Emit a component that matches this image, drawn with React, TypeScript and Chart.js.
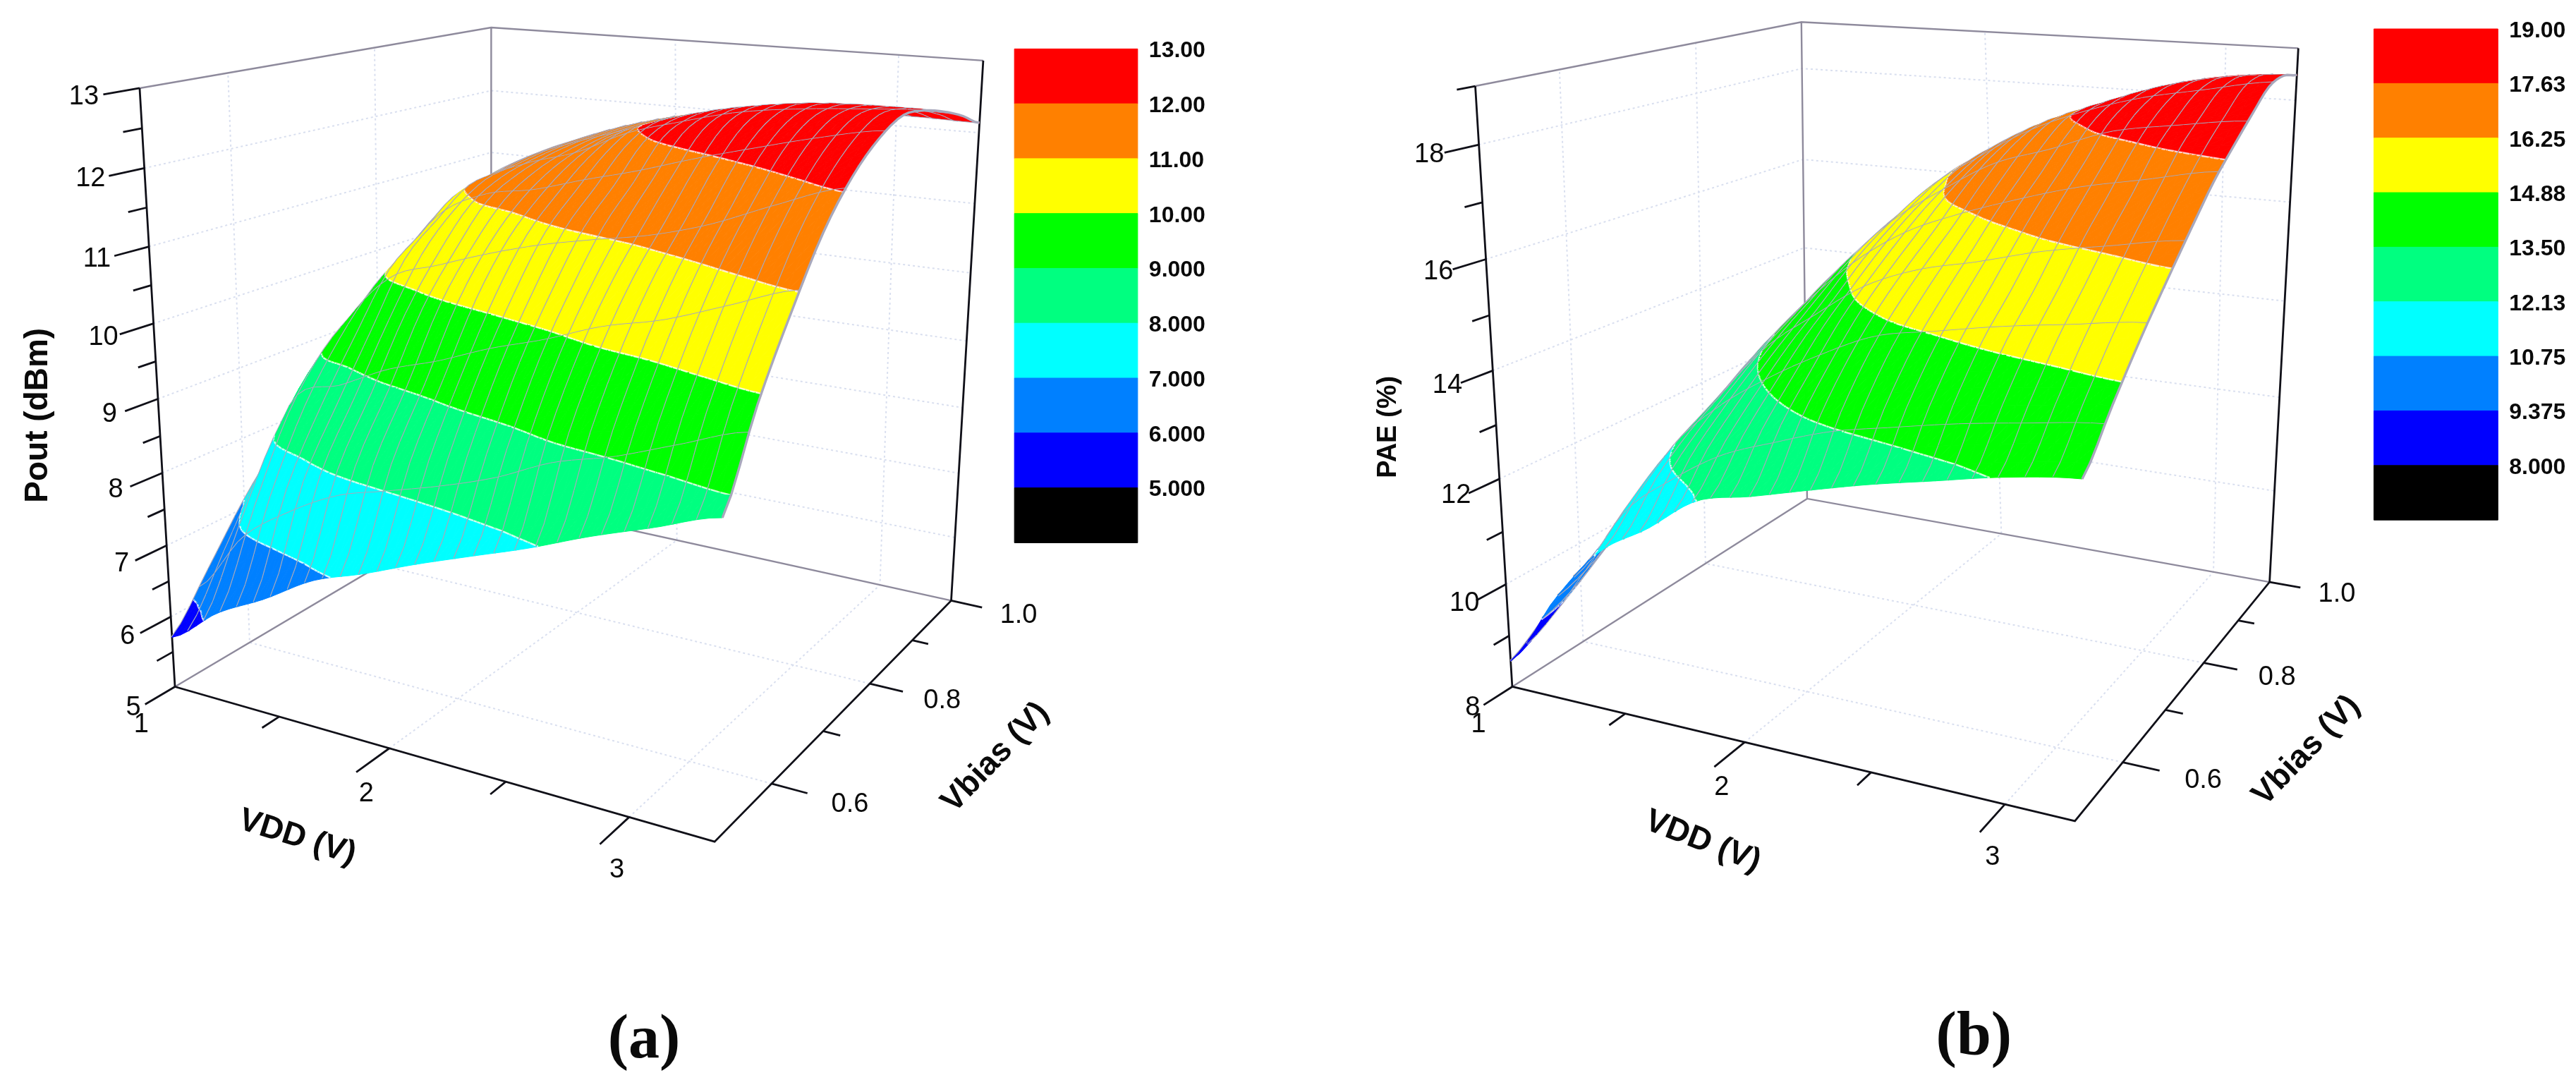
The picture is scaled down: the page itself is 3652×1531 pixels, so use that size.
import { useEffect, useRef } from "react";
import { Chart, registerables } from "chart.js";

Chart.register(...registerables);

const BAND_COLORS = ["#000000", "#0000ff", "#0080ff", "#00ffff", "#00ff80", "#00ff00", "#ffff00", "#ff8000", "#ff0000"];

const VDD_A = [1.0, 1.233, 1.466, 1.699, 1.932, 2.165, 2.398, 2.631, 2.864, 3.097, 3.33];
const VDD_B = [1.0, 1.225, 1.45, 1.675, 1.9, 2.125, 2.35, 2.575, 2.8, 3.025, 3.25];
const VBIAS = [0.5, 0.55, 0.6, 0.65, 0.7, 0.75, 0.8, 0.85, 0.9, 0.95, 1.0];
const MESH_VBIAS = [0.5425, 0.6175, 0.6925, 0.7675, 0.8425, 0.9175, 0.9925];

// Rows follow VDD, columns follow VBIAS
const POUT = [
  [5.66, 6.3, 7.0, 7.6, 8.2, 8.7, 9.1, 9.55, 9.9, 10.2, 10.45],
  [6.15, 7.25, 8.3, 8.98, 9.38, 9.75, 10.15, 10.5, 10.7, 10.8, 10.8],
  [6.5, 7.75, 8.6, 9.4, 10.2, 10.6, 10.97, 11.05, 11.15, 11.2, 11.2],
  [6.9, 8.1, 8.92, 9.8, 10.45, 11.0, 11.25, 11.38, 11.45, 11.48, 11.5],
  [7.15, 8.3, 9.15, 10.05, 10.7, 11.15, 11.45, 11.62, 11.7, 11.72, 11.72],
  [7.43, 8.5, 9.45, 10.25, 10.93, 11.36, 11.75, 11.98, 11.97, 11.92, 11.89],
  [7.69, 8.75, 9.7, 10.45, 11.1, 11.55, 12.03, 12.2, 12.2, 12.1, 12.0],
  [7.95, 9.1, 10.0, 10.7, 11.25, 11.8, 12.25, 12.4, 12.35, 12.2, 12.05],
  [8.25, 9.3, 10.2, 10.93, 11.5, 12.05, 12.4, 12.52, 12.45, 12.28, 12.1],
  [8.52, 9.6, 10.5, 11.25, 11.85, 12.3, 12.55, 12.58, 12.48, 12.3, 12.1],
  [8.8, 9.9, 10.8, 11.6, 12.15, 12.5, 12.68, 12.62, 12.48, 12.3, 12.08],
];
const PAE = [
  [8.47, 8.9, 9.3, 9.75, 10.2, 10.6, 11.0, 11.35, 11.7, 12.0, 12.3],
  [9.8, 10.05, 10.55, 11.05, 11.5, 11.85, 12.2, 12.5, 12.7, 12.9, 13.1],
  [10.85, 11.45, 11.95, 12.3, 12.65, 13.05, 13.3, 13.55, 13.75, 13.95, 14.1],
  [11.45, 12.25, 12.8, 13.27, 13.7, 14.05, 14.4, 14.65, 14.8, 15.0, 15.16],
  [12.13, 12.85, 13.45, 14.0, 14.45, 14.92, 15.3, 15.6, 15.85, 16.0, 16.05],
  [12.4, 13.3, 14.0, 14.65, 15.15, 15.6, 16.0, 16.3, 16.55, 16.7, 16.75],
  [12.7, 13.7, 14.5, 15.1, 15.6, 16.05, 16.55, 16.95, 17.2, 17.3, 17.25],
  [13.0, 13.95, 14.75, 15.35, 15.9, 16.45, 16.9, 17.35, 17.68, 17.75, 17.7],
  [13.27, 14.2, 15.0, 15.6, 16.25, 16.8, 17.3, 17.8, 18.05, 18.15, 18.1],
  [13.55, 14.4, 15.2, 15.85, 16.5, 17.05, 17.63, 18.0, 18.3, 18.4, 18.35],
  [13.75, 14.6, 15.4, 16.1, 16.75, 17.35, 17.8, 18.2, 18.55, 18.6, 18.45],
];

const POUT_LEVELS = [5, 6, 7, 8, 9, 10, 11, 12, 13];
const PAE_LEVELS = [8, 9.375, 10.75, 12.13, 13.5, 14.88, 16.25, 17.63, 19];
const POUT_LEGEND = ["13.00", "12.00", "11.00", "10.00", "9.000", "8.000", "7.000", "6.000", "5.000"];
const PAE_LEGEND = ["19.00", "17.63", "16.25", "14.88", "13.50", "12.13", "10.75", "9.375", "8.000"];

const POUT_TICKS = [5, 6, 7, 8, 9, 10, 11, 12, 13];
const POUT_MINOR = [5.5, 6.5, 7.5, 8.5, 9.5, 10.5, 11.5, 12.5];
const PAE_TICKS = [8, 10, 12, 14, 16, 18];
const PAE_MINOR = [9, 11, 13, 15, 17, 19];
const VDD_TICKS = [2, 3];
const VDD_MINOR = [1.5, 2.5];
const VDD_LABELS = ["1", "2", "3"];
const VBIAS_TICKS = [0.6, 0.8, 1.0];
const VBIAS_MINOR = [0.7, 0.9];
const VBIAS_LABELS = ["0.6", "0.8", "1.0"];

const SX = 1.1645;
const SY = 0.9764;
const W = 3652;
const H = 1531;

const panelA = {
  grid: POUT, vdd: VDD_A, levels: POUT_LEVELS, legend: POUT_LEGEND,
  ticks: POUT_TICKS, minor: POUT_MINOR, zMin: 5, zMax: 13, ox: 0, labDx: [-59, -20],
  bottom: [[213, 997], [870, 1222], [1158, 872], [598, 725]],
  top: [[170, 128], [890, 232], [1197, 88], [598, 40]],
  title: "Pout (dBm)", titlePos: [47, 603], titleFont: 46,
  legendBox: [1235, 1385, 71, 788],
  vddTitlePos: [362, 1216], vddAngle: 17.5, vbTitlePos: [1212, 1100], tag: "(a)", tagPos: [784, 1512],
};
const panelB = {
  grid: PAE, vdd: VDD_B, levels: PAE_LEVELS, legend: PAE_LEGEND,
  ticks: PAE_TICKS, minor: PAE_MINOR, zMin: 8, zMax: 19, ox: 1826, labDx: [-56, -16],
  bottom: [[273, 997], [958, 1192], [1195, 845], [632, 724]],
  top: [[228, 125], [975, 242], [1230, 70], [625, 32]],
  title: "PAE (%)", titlePos: [122, 620], titleFont: 38,
  legendBox: [1322, 1473, 42, 755],
  vddTitlePos: [505, 1222], vddAngle: 21, vbTitlePos: [1240, 1090], tag: "(b)", tagPos: [835, 1508],
};

const quadMap = (q: number[][]) => {
  const [A, B, C, D] = q;
  const dx1 = B[0] - C[0], dx2 = D[0] - C[0], sx = A[0] - B[0] + C[0] - D[0];
  const dy1 = B[1] - C[1], dy2 = D[1] - C[1], sy = A[1] - B[1] + C[1] - D[1];
  const det = dx1 * dy2 - dx2 * dy1;
  const g = (sx * dy2 - dx2 * sy) / det;
  const h = (dx1 * sy - sx * dy1) / det;
  const a = B[0] - A[0] + g * B[0], b = D[0] - A[0] + h * D[0], c = A[0];
  const d = B[1] - A[1] + g * B[1], e = D[1] - A[1] + h * D[1], f = A[1];
  return (u: number, v: number) => {
    const w = g * u + h * v + 1;
    return [(a * u + b * v + c) / w, (d * u + e * v + f) / w];
  };
};

const catmull = (p0: number, p1: number, p2: number, p3: number, t: number) =>
  0.5 * (2 * p1 + (p2 - p0) * t + (2 * p0 - 5 * p1 + 4 * p2 - p3) * t * t + (3 * p1 - p0 - 3 * p2 + p3) * t * t * t);

const sampleGrid = (grid: number[][], u: number, v: number) => {
  const n = grid.length - 1, m = grid[0].length - 1;
  const s = Math.min(u * n, n - 1e-6), t = Math.min(v * m, m - 1e-6);
  const i = Math.floor(s), j = Math.floor(t);
  const row = (r: number) => {
    const R = grid[Math.max(0, Math.min(n, r))];
    const at = (q: number) => R[Math.max(0, Math.min(m, q))];
    return catmull(at(j - 1), at(j), at(j + 1), at(j + 2), t - j);
  };
  return catmull(row(i - 1), row(i), row(i + 1), row(i + 2), s - i);
};

const GAP = { x: NaN, y: NaN };
const MESH_COLOR = "#a8a8bc";

function buildPanel(p: any) {
  const toReal = (q: number[]) => [p.ox + q[0] * SX, q[1] * SY];
  const bot = quadMap(p.bottom.map(toReal));
  const top = quadMap(p.top.map(toReal));
  const project = (u: number, v: number, f: number) => {
    const a = bot(u, v), b = top(u, v);
    return { x: a[0] + (b[0] - a[0]) * f, y: a[1] + (b[1] - a[1]) * f };
  };
  const vdd0 = p.vdd[0], vddN = p.vdd[p.vdd.length - 1];
  const uOf = (V: number) => (V - vdd0) / (vddN - vdd0);
  const vOf = (V: number) => (V - VBIAS[0]) / (VBIAS[VBIAS.length - 1] - VBIAS[0]);
  const linF = (z: number) => (z - p.zMin) / (p.zMax - p.zMin);
  const tickF = (z: number) => {
    const f = linF(z);
    return f / (f + (1 - f) * 1.08);
  };

  // surface
  const Nu = 56, Nv = 40;
  const verts: any[] = [];
  const items: any[] = [];
  const node = (i: number, j: number) => {
    const u = i / Nu, v = j / Nv;
    const z = sampleGrid(p.grid, u, v);
    const q = project(u, v, linF(z));
    return { x: q.x, y: q.y, z };
  };
  const nodes: any[][] = [];
  for (let i = 0; i <= Nu; i++) {
    nodes.push([]);
    for (let j = 0; j <= Nv; j++) nodes[i].push(node(i, j));
  }
  const edges = [-Infinity, ...p.levels.slice(0, 8), Infinity];
  const clip = (poly: any[], lim: number, keepAbove: boolean) => {
    const out: any[] = [];
    for (let k = 0; k < poly.length; k++) {
      const a = poly[k], b = poly[(k + 1) % poly.length];
      const ina = keepAbove ? a.z >= lim : a.z <= lim;
      const inb = keepAbove ? b.z >= lim : b.z <= lim;
      if (ina) out.push(a);
      if (ina !== inb) {
        const t = (lim - a.z) / (b.z - a.z);
        out.push({ x: a.x + (b.x - a.x) * t, y: a.y + (b.y - a.y) * t, z: lim });
      }
    }
    return out;
  };
  const addItem = (pts: any[], style: any) => {
    for (const q of pts) verts.push({ x: q.x, y: q.y });
    items.push({ n: pts.length, ...style });
  };
  const tri = (t: any[]) => {
    const lo = Math.min(t[0].z, t[1].z, t[2].z), hi = Math.max(t[0].z, t[1].z, t[2].z);
    for (let b = 0; b < BAND_COLORS.length; b++) {
      const a = edges[b], c = edges[b + 1];
      if (hi < a || lo > c) continue;
      let poly = t;
      if (lo < a) poly = clip(poly, a, true);
      if (hi > c) poly = clip(poly, c, false);
      if (poly.length >= 3) addItem(poly, { fill: BAND_COLORS[b] });
    }
    for (const L of p.levels) {
      if (lo < L && hi > L) {
        const seg: any[] = [];
        for (let k = 0; k < 3; k++) {
          const a = t[k], b = t[(k + 1) % 3];
          if ((a.z < L) !== (b.z < L)) {
            const f = (L - a.z) / (b.z - a.z);
            seg.push({ x: a.x + (b.x - a.x) * f, y: a.y + (b.y - a.y) * f });
          }
        }
        if (seg.length === 2) addItem(seg, { stroke: "rgba(255,255,255,0.8)", width: 2.4 });
      }
    }
  };
  const hatch = (i: number) => addItem(nodes[i], { stroke: MESH_COLOR, width: 3.4 });
  const meshRows = MESH_VBIAS.map((V) => Math.round(vOf(V) * Nv));
  for (let i = 0; i < Nu; i++) {
    if (i % 2 === 0) hatch(i);
    for (let j = Nv - 1; j >= 0; j--) {
      const a = nodes[i][j], b = nodes[i + 1][j], c = nodes[i + 1][j + 1], d = nodes[i][j + 1];
      tri([a, d, c]);
      tri([a, c, b]);
      if (meshRows.includes(j)) addItem([a, b], { stroke: MESH_COLOR, width: 3 });
    }
  }
  hatch(Nu);

  // colour bar
  const barVerts: any[] = [];
  const barItems: any[] = [];
  const [lx0, lx1, ly0, ly1] = p.legendBox;
  const X0 = p.ox + lx0 * SX, X1 = p.ox + lx1 * SX, Y0 = ly0 * SY, Y1 = ly1 * SY;
  const step = (Y1 - Y0) / 9;
  for (let b = 0; b < 9; b++) {
    const y0 = Y0 + b * step, y1 = y0 + step;
    barVerts.push({ x: X0, y: y0 }, { x: X1, y: y0 }, { x: X1, y: y1 }, { x: X0, y: y1 });
    barItems.push({ n: 4, fill: BAND_COLORS[8 - b] });
  }

  // box lines
  const seg = (arr: any[], ...pts: any[]) => {
    arr.push(...pts, GAP);
  };
  const grid: any[] = [], frame: any[] = [], axes: any[] = [], ticks: any[] = [];
  const zLines = p.ticks.filter((z: number) => z > p.zMin && z < p.zMax);
  for (const z of zLines) {
    const f = tickF(z);
    seg(grid, project(0, 0, f), project(0, 1, f), project(1, 1, f));
  }
  for (const V of VDD_TICKS) {
    const u = uOf(V);
    seg(grid, project(u, 0, 0), project(u, 1, 0), project(u, 1, 1));
  }
  for (const V of VBIAS_TICKS.slice(0, 2)) {
    const v = vOf(V);
    seg(grid, project(1, v, 0), project(0, v, 0), project(0, v, 1));
  }
  seg(frame, project(0, 0, 1), project(0, 1, 1), project(1, 1, 1));
  seg(frame, project(0, 1, 1), project(0, 1, 0));
  seg(frame, project(0, 0, 0), project(0, 1, 0), project(1, 1, 0));
  seg(axes, project(0, 0, 1), project(0, 0, 0), project(1, 0, 0), project(1, 1, 0), project(1, 1, 1));

  for (const z of p.ticks) {
    const f = tickF(z);
    seg(ticks, project(0, 0, f), project(0, -0.075, f));
  }
  for (const z of p.minor) {
    const f = tickF(z);
    seg(ticks, project(0, 0, f), project(0, -0.04, f));
  }
  for (const V of VDD_TICKS) seg(ticks, project(uOf(V), 0, 0), project(uOf(V), -0.09, 0));
  for (const V of VDD_MINOR) seg(ticks, project(uOf(V), 0, 0), project(uOf(V), -0.045, 0));
  for (const V of VBIAS_TICKS) seg(ticks, project(1, vOf(V), 0), project(1.06, vOf(V), 0));
  for (const V of VBIAS_MINOR) seg(ticks, project(1, vOf(V), 0), project(1.03, vOf(V), 0));

  // text
  const texts: any[] = [];
  const tick = "38px 'Liberation Sans'";
  for (const z of p.ticks) {
    const f = tickF(z);
    const q = project(0, 0, f);
    texts.push({ s: String(z), x: q.x + p.labDx[0] + p.labDx[1] * f, y: q.y + 30 - 17 * f, font: tick });
  }
  [1, 2, 3].forEach((V, i) => {
    const q = project(uOf(V), 0, 0);
    texts.push({ s: VDD_LABELS[i], x: q.x + (-41 + 13 * (V - 1)) * SX, y: q.y + (55 + 11 * (V - 1)) * SY, font: tick });
  });
  VBIAS_TICKS.forEach((V, i) => {
    const q = project(1.13, vOf(V), 0);
    texts.push({ s: VBIAS_LABELS[i], x: q.x, y: q.y, font: tick });
  });
  p.legend.forEach((s: string, i: number) => {
    texts.push({ s, x: X1 + 16, y: Y0 + i * step + 3, font: "bold 32px 'Liberation Sans'", align: "left" });
  });
  const bold = "bold 46px 'Liberation Sans'";
  const pos = (q: number[]) => [p.ox + q[0] * SX, q[1] * SY];
  let t = pos(p.titlePos);
  texts.push({ s: p.title, x: t[0], y: t[1], font: `bold ${p.titleFont}px 'Liberation Sans'`, rot: -90 });
  t = pos(p.vddTitlePos);
  texts.push({ s: "VDD (V)", x: t[0], y: t[1], font: bold, rot: p.vddAngle });
  t = pos(p.vbTitlePos);
  texts.push({ s: "Vbias (V)", x: t[0], y: t[1], font: bold, rot: -46 });
  t = pos(p.tagPos);
  texts.push({ s: p.tag, x: t[0], y: t[1], font: "bold 88px 'Liberation Serif'" });

  return { verts, items, barVerts, barItems, grid, frame, axes, ticks, texts };
}

const meshPlugin = {
  id: "meshPlugin",
  afterDatasetDraw(chart: any, args: any) {
    const ds = chart.data.datasets[args.index];
    if (!ds.items) return;
    const pts = args.meta.data;
    const ctx = chart.ctx;
    ctx.save();
    ctx.lineJoin = "round";
    let k = 0;
    for (const it of ds.items) {
      ctx.beginPath();
      for (let i = 0; i < it.n; i++) {
        const q = pts[k + i];
        if (i === 0) ctx.moveTo(q.x, q.y);
        else ctx.lineTo(q.x, q.y);
      }
      k += it.n;
      if (it.fill) {
        ctx.closePath();
        ctx.fillStyle = it.fill;
        ctx.strokeStyle = it.fill;
        ctx.lineWidth = 1;
        ctx.fill();
        ctx.stroke();
      } else {
        ctx.strokeStyle = it.stroke;
        ctx.lineWidth = it.width;
        ctx.stroke();
      }
    }
    ctx.restore();
  },
};

const textPlugin = {
  id: "textPlugin",
  afterDatasetsDraw(chart: any) {
    const ctx = chart.ctx;
    const list = chart.options.plugins.textPlugin.items;
    for (const t of list) {
      ctx.save();
      ctx.translate(t.x, t.y);
      if (t.rot) ctx.rotate((t.rot * Math.PI) / 180);
      ctx.font = t.font;
      ctx.fillStyle = "#0a0a0a";
      ctx.textAlign = t.align || "center";
      ctx.textBaseline = "middle";
      ctx.fillText(t.s, 0, 0);
      ctx.restore();
    }
  },
};

const lineSet = (label: string, data: any[], color: string, width: number, order: number, dash?: number[]) => ({
  type: "scatter", label, data, showLine: true, spanGaps: false, borderColor: color, borderWidth: width,
  borderDash: dash || [], pointRadius: 0, pointHoverRadius: 0, order, fill: false, tension: 0,
});

export default function App() {
  const ref = useRef<HTMLCanvasElement | null>(null);
  useEffect(() => {
    document.body.style.margin = "0";
    document.body.style.background = "#fff";
    const a = buildPanel(panelA);
    const b = buildPanel(panelB);
    const markSet = (label: string, data: any[], items: any[], order: number) => ({
      type: "scatter", label, data, items, showLine: false, pointRadius: 0, pointHoverRadius: 0, order,
    });
    const chart = new Chart(ref.current as any, {
      type: "scatter",
      data: {
        datasets: [
          lineSet("wall grid", [...a.grid, ...b.grid], "#d9dfef", 2, 8, [3, 4]),
          lineSet("box", [...a.frame, ...b.frame], "#8e8a9c", 2.4, 7),
          lineSet("axes", [...a.axes, ...b.axes], "#101018", 2.8, 6),
          markSet("Pout surface", a.verts, a.items, 5),
          markSet("PAE surface", b.verts, b.items, 5),
          markSet("Pout colour bar", a.barVerts, a.barItems, 4),
          markSet("PAE colour bar", b.barVerts, b.barItems, 4),
          lineSet("ticks", [...a.ticks, ...b.ticks], "#101018", 2.8, 3),
        ] as any,
      },
      options: {
        responsive: false,
        animation: false,
        devicePixelRatio: 1,
        events: [],
        layout: { padding: 0 },
        scales: {
          x: { type: "linear", min: 0, max: W, display: false },
          y: { type: "linear", min: 0, max: H, reverse: true, display: false },
        },
        plugins: {
          legend: { display: false },
          tooltip: { enabled: false },
          textPlugin: { items: [...a.texts, ...b.texts] },
        },
      } as any,
      plugins: [meshPlugin, textPlugin],
    } as any);
    return () => chart.destroy();
  }, []);
  return <canvas ref={ref} width={W} height={H} style={{ display: "block" }} />;
}
